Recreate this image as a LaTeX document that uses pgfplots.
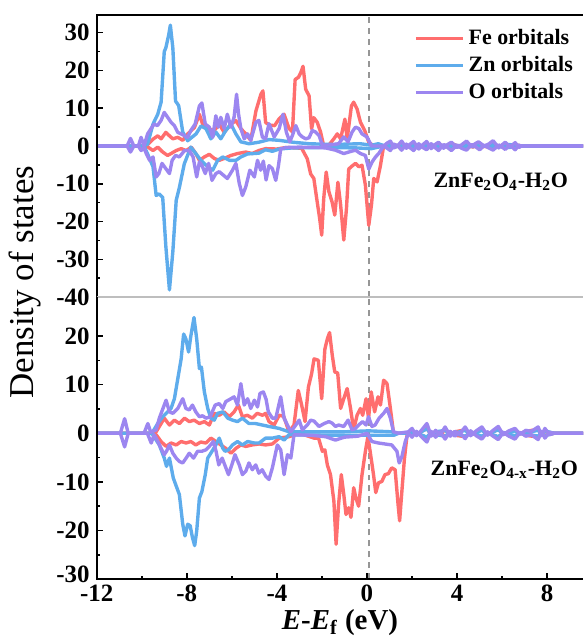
\documentclass[border=0pt]{standalone}
\usepackage{fontspec}
\setmainfont{Liberation Serif}
\usepackage{pgfplots}
\pgfplotsset{compat=1.18}
\definecolor{fecol}{RGB}{255,110,110}
\definecolor{zncol}{RGB}{94,172,236}
\definecolor{ocol}{RGB}{156,134,240}
\definecolor{sepgray}{RGB}{190,190,190}
\definecolor{dashgray}{RGB}{150,150,150}

\pgfplotsset{
  dosaxis/.style={
    scale only axis, width=244pt, height=141.5pt,
    xmin=-12, xmax=9.6,
    axis line style={draw=none},
    tick align=inside, ytick pos=left, xtick pos=bottom,
    major tick length=3pt, minor tick length=1.8pt,
    tick style={black, line width=0.8pt},
    minor tick num=1,
    tick label style={font=\bfseries\fontsize{12.5}{13}\selectfont},
    /pgf/number format/assume math mode=true,
    every axis plot/.append style={line width=1.7pt, line join=round, no markers},
  },
  fe/.style={fecol}, zn/.style={zncol}, ox/.style={ocol},
}

\begin{document}
\begin{tikzpicture}
% ---------------- upper panel: ZnFe2O4-H2O ----------------
\begin{axis}[dosaxis, name=top,
  ymin=-40, ymax=34.7, ytick={-40,-30,...,30},
  xtick=\empty,
  legend style={draw=none, fill=none, at={(1,1)}, anchor=north east,
    xshift=0pt, yshift=-3pt, font=\bfseries\fontsize{11}{12}\selectfont,
    row sep=0.5pt},
  legend cell align=left,
  legend image code/.code={\draw[#1] (0cm,0cm) -- (0.83cm,0cm);},
  after end axis/.code={
    \draw[black, line width=1pt] (rel axis cs:0,0) -- (rel axis cs:0,1) -- (rel axis cs:1,1);
    \draw[sepgray, line width=1pt] (rel axis cs:0,0) -- (rel axis cs:1,0);
  }]
\draw[dashgray, line width=1pt, dash pattern=on 3pt off 2.5pt] (axis cs:0.08,-40) -- (axis cs:0.08,34.7);

\addplot[fe] coordinates {(-12,0) (-9.8,0) (-9.5,1.8) (-9.29,2.7) (-9.14,1.9) (-8.93,3.6) (-8.77,2.7) (-8.62,1.9) (-8.4,2.3) (-8.18,1.5) (-7.96,3.2) (-7.66,4.9) (-7.44,8.4) (-7.3,5.8) (-7.07,4.6) (-6.78,4.1) (-6.56,5.8) (-6.34,3.6) (-6.04,5.8) (-5.82,6.7) (-5.6,4.6) (-5.38,3.2) (-5.16,1.5) (-4.93,9.3) (-4.71,13.7) (-4.62,14.6) (-4.5,6.2) (-4.3,5.5) (-4.1,5.4) (-3.9,7.2) (-3.68,8.4) (-3.46,4.6) (-3.31,3.7) (-3.19,17.6) (-3.04,18.2) (-2.94,19.4) (-2.84,21.1) (-2.72,15) (-2.57,13.3) (-2.46,4.5) (-2.36,7.5) (-2.21,6.3) (-2.06,3.7) (-1.92,0) (-1.7,0.2) (-1.47,1.9) (-1.32,3.2) (-1.17,1.9) (-0.98,7.1) (-0.88,1.9) (-0.69,10.6) (-0.59,11.6) (-0.44,9.8) (-0.29,6.3) (-0.1,4.1) (0.08,1.0) (0.3,0) (0.9,0) (1.04,0.5) (1.3,-0.2) (1.54,0.7) (1.8,-0.3) (2.07,0.6) (2.3,-0.3) (2.65,0.6) (2.9,-0.2) (3.18,0.5) (3.45,-0.3) (3.75,0.7) (4.1,-0.2) (4.42,0.5) (4.7,-0.3) (5.0,0.4) (5.3,-0.2) (5.6,0.8) (5.85,-0.2) (6.14,0.6) (6.4,-0.2) (6.58,0.4) (6.85,0) (9.6,0)};
\addlegendentry{Fe orbitals}
\addplot[fe, forget plot] coordinates {(-12,0) (-9.8,0) (-9.5,-1.2) (-9.29,-0.3) (-9.07,-1.6) (-8.85,-2.5) (-8.7,-2) (-8.47,-1.2) (-8.25,-0.7) (-8.03,-1.2) (-7.8,-0.3) (-7.6,-2) (-7.44,-3.8) (-7.22,-2.9) (-7.0,-2.2) (-6.78,-3.3) (-6.56,-3.8) (-6.34,-3.3) (-6.04,-2.5) (-5.75,-2) (-5.38,-1.6) (-5.1,-2) (-4.8,-1.2) (-4.5,-0.7) (-4.0,-0.8) (-3.6,-0.4) (-3.2,-0.5) (-2.9,-0.6) (-2.65,-3.4) (-2.5,-7.4) (-2.36,-8.6) (-2.21,-14.8) (-2.1,-19.2) (-2.01,-23.6) (-1.92,-13.9) (-1.81,-6.9) (-1.69,-12.1) (-1.55,-14.8) (-1.43,-18.3) (-1.29,-9.6) (-1.17,-15.6) (-1.03,-24.9) (-0.91,-16.5) (-0.81,-6.1) (-0.66,-5.3) (-0.51,-4.6) (-0.36,-5.5) (-0.22,-5.1) (-0.07,-10.4) (0.08,-21) (0.2,-15.6) (0.3,-8.6) (0.45,-9.5) (0.6,-5.1) (0.74,0) (1.04,-0.4) (1.3,0.2) (1.54,-0.6) (1.8,0.2) (2.07,-0.6) (2.3,0.2) (2.65,-0.5) (2.9,0.2) (3.18,-0.6) (3.45,0.2) (3.75,-0.6) (4.1,0.1) (4.42,-0.5) (4.7,0.2) (5.0,-0.5) (5.3,0.1) (5.6,-0.6) (5.85,0.1) (6.14,-0.5) (6.4,0.1) (6.58,-0.4) (6.85,0) (9.6,0)};

\addplot[zn] coordinates {(-12,0) (-9.9,0) (-9.74,0.5) (-9.5,5.8) (-9.29,8.4) (-9.14,11.6) (-9.0,25) (-8.93,26) (-8.8,29.5) (-8.73,32) (-8.62,26) (-8.5,11.9) (-8.36,10.7) (-8.18,3.7) (-7.96,1.4) (-7.59,3.2) (-7.37,5.3) (-7.15,4.6) (-6.93,1.9) (-6.71,3.7) (-6.49,1.9) (-6.27,4.1) (-6.04,5.8) (-5.82,3.2) (-5.6,1.1) (-5.24,0.6) (-4.8,1.0) (-4.35,1.7) (-3.9,1.5) (-3.3,1.0) (-2.57,0.6) (-1.5,0.4) (-0.3,0.6) (0.2,0.2) (0.5,0.6) (0.8,0) (1.04,0.4) (1.3,-0.2) (1.54,0.6) (1.8,-0.2) (2.07,0.5) (2.3,-0.2) (2.65,0.5) (2.9,-0.2) (3.18,0.4) (3.45,-0.2) (3.75,0.5) (4.1,-0.1) (4.42,0.4) (4.7,-0.2) (5.0,0.4) (5.3,-0.1) (5.6,0.5) (5.85,-0.1) (6.14,0.4) (6.58,0.3) (6.85,0) (9.6,0)};
\addlegendentry{Zn orbitals}
\addplot[zn, forget plot] coordinates {(-12,0) (-9.9,0) (-9.74,-2.1) (-9.5,-5.5) (-9.36,-13.1) (-9.22,-12.7) (-9.07,-13.6) (-8.93,-26.6) (-8.77,-38.1) (-8.62,-28) (-8.47,-14.4) (-8.33,-11) (-8.11,-4.7) (-7.82,-0.3) (-7.6,-2) (-7.37,-3.8) (-7.07,-5.5) (-6.85,-6.4) (-6.63,-3.8) (-6.4,-2.9) (-6.1,-3.8) (-5.82,-3.8) (-5.6,-2.9) (-5.3,-2.1) (-4.8,-1.9) (-4.5,-1.0) (-4.2,-1.4) (-3.9,-0.8) (-3.3,-0.5) (-2.0,-0.4) (-0.5,-0.5) (0.2,-0.7) (0.5,-0.3) (0.8,0) (1.04,-0.4) (1.3,0.2) (1.54,-0.5) (1.8,0.2) (2.07,-0.5) (2.3,0.2) (2.65,-0.4) (2.9,0.2) (3.18,-0.5) (3.45,0.2) (3.75,-0.5) (4.1,0.1) (4.42,-0.4) (4.7,0.1) (5.0,-0.4) (5.3,0.1) (5.6,-0.5) (5.85,0.1) (6.14,-0.4) (6.58,-0.3) (6.85,0) (9.6,0)};

\addplot[ox] coordinates {(-12,0) (-10.65,0) (-10.5,2.0) (-10.35,0) (-10.15,0) (-10.03,2.3) (-9.9,0) (-9.74,3.2) (-9.6,4.5) (-9.45,5.8) (-9.3,5.4) (-9.14,6.8) (-9.0,8.9) (-8.85,7.6) (-8.7,6.3) (-8.55,5.4) (-8.4,3.6) (-8.25,3.2) (-8.1,2.7) (-7.96,2.3) (-7.82,4.1) (-7.63,5.8) (-7.44,10.6) (-7.33,11.4) (-7.18,5.8) (-7.0,5.0) (-6.85,2.3) (-6.71,8.0) (-6.6,5.0) (-6.49,7.6) (-6.34,4.6) (-6.2,8.4) (-6.04,5.0) (-5.9,7.6) (-5.79,13.7) (-5.7,8.4) (-5.6,4.6) (-5.45,1.9) (-5.3,3.2) (-5.16,1.5) (-4.93,6.3) (-4.8,6.8) (-4.64,2.3) (-4.5,2.0) (-4.35,5.9) (-4.12,2.4) (-3.9,4.6) (-3.73,8.4) (-3.58,3.7) (-3.43,1.1) (-3.31,2.8) (-3.16,5.4) (-3.01,3.2) (-2.87,2.4) (-2.72,1.9) (-2.57,2.2) (-2.43,4.1) (-2.28,3.7) (-2.13,2.8) (-1.98,0.2) (-1.6,0.3) (-1.26,0.6) (-1.03,2.4) (-0.84,1.1) (-0.66,3.7) (-0.51,5.0) (-0.36,4.6) (-0.22,3.2) (0.0,2.4) (0.2,0) (0.74,0) (0.9,0.8) (1.04,1.3) (1.2,-0.5) (1.4,0.3) (1.54,1.3) (1.75,-0.6) (1.9,0.4) (2.07,1.2) (2.3,-0.8) (2.45,0.2) (2.65,1.2) (2.85,-0.7) (3.0,0.3) (3.18,1.0) (3.4,-0.6) (3.55,0.3) (3.75,1.0) (4.0,-0.4) (4.2,0.3) (4.42,1.3) (4.65,-0.2) (4.8,0.6) (4.95,1.1) (5.2,0.0) (5.4,0.5) (5.6,1.4) (5.85,-0.5) (6.0,0.3) (6.14,1.0) (6.35,-0.3) (6.58,0.9) (6.75,-0.4) (6.85,0) (9.6,0)};
\addlegendentry{O orbitals}
\addplot[ox, forget plot] coordinates {(-12,0) (-10.65,0) (-10.5,-1.6) (-10.35,0) (-10.15,0) (-10.03,-1.2) (-9.9,-0.5) (-9.8,-2) (-9.65,-3.8) (-9.5,-2.9) (-9.36,-8.2) (-9.24,-7.3) (-9.1,-4.6) (-8.93,-6) (-8.77,-7.3) (-8.65,-3.8) (-8.5,-2.5) (-8.33,-2.9) (-8.1,-1.2) (-7.89,-1.2) (-7.72,-2.9) (-7.56,-8.2) (-7.44,-4.2) (-7.33,-5.1) (-7.18,-7.3) (-7.03,-4.6) (-6.88,-9.1) (-6.71,-7.3) (-6.56,-6.8) (-6.38,-7.7) (-6.2,-8.6) (-5.97,-6.4) (-5.82,-4.6) (-5.67,-9.9) (-5.53,-13.1) (-5.38,-10.8) (-5.2,-6.4) (-5.0,-8.2) (-4.86,-3.8) (-4.72,-6.4) (-4.6,-4) (-4.48,-9) (-4.35,-5.2) (-4.2,-6) (-4.05,-9.1) (-3.93,-5.2) (-3.83,-0.8) (-3.6,-0.4) (-3.0,-0.3) (-2.2,-0.4) (-1.84,-0.5) (-1.4,-1.1) (-1.03,-2) (-0.81,-1.6) (-0.51,-1.1) (-0.29,-2) (-0.07,-2.5) (0.08,-6.1) (0.23,-4.2) (0.38,-2.9) (0.52,-2) (0.74,0) (0.9,-0.6) (1.04,-1.2) (1.2,0.5) (1.4,-0.2) (1.54,-1.1) (1.75,0.5) (1.9,-0.4) (2.07,-1.2) (2.3,0.6) (2.45,-0.3) (2.65,-1.0) (2.85,0.6) (3.0,-0.3) (3.18,-1.2) (3.4,0.4) (3.6,-0.5) (3.75,-1.2) (4.0,0.3) (4.2,-0.6) (4.42,-1.1) (4.65,0.4) (4.85,-0.3) (5.0,-1.0) (5.2,0.2) (5.4,-0.5) (5.6,-1.1) (5.85,0.3) (6.0,-0.3) (6.14,-0.9) (6.35,0.2) (6.58,-1.0) (6.75,0.2) (6.85,0) (9.6,0)};

\node[font=\bfseries\fontsize{11}{12}\selectfont] at (axis cs:5.94,-9.5) {ZnFe\textsubscript{2}O\textsubscript{4}-H\textsubscript{2}O};
\end{axis}

% ---------------- lower panel: ZnFe2O4-x-H2O ----------------
\begin{axis}[dosaxis, name=bot, at={(top.south west)}, anchor=north west,
  ymin=-30, ymax=28, ytick={-30,-20,...,20},
  yticklabels={\raisebox{5pt}{-30},-20,-10,0,10,20},
  xtick={-12,-8,...,8},
  xticklabel style={yshift=0.5pt},
  xlabel={\textit{E}-\textit{E}\textsubscript{f} (eV)},
  xlabel style={font=\bfseries\fontsize{14.5}{16}\selectfont, yshift=3pt},
  after end axis/.code={
    \draw[black, line width=1pt] (rel axis cs:0,1) -- (rel axis cs:0,0) -- (rel axis cs:1,0);
  }]
\draw[dashgray, line width=1pt, dash pattern=on 3pt off 2.5pt] (axis cs:0.08,-30) -- (axis cs:0.08,28);

\addplot[fe] coordinates {(-12,0) (-9.5,0) (-9.36,0.3) (-9.14,2.0) (-9.0,3.1) (-8.77,1.7) (-8.55,2.7) (-8.33,2.0) (-8.1,3.1) (-7.89,2.4) (-7.67,2.7) (-7.44,2.0) (-7.22,2.4) (-7.0,1.7) (-6.78,4.1) (-6.56,3.7) (-6.34,4.4) (-6.12,3.4) (-5.9,4.4) (-5.71,5.8) (-5.53,3.4) (-5.31,3.7) (-5.09,3.1) (-4.87,4.1) (-4.64,3.7) (-4.5,4.1) (-4.35,2.4) (-4.12,1.7) (-3.9,3.7) (-3.7,3.5) (-3.46,0.3) (-3.24,1.7) (-3.05,8.8) (-2.9,5.8) (-2.75,2.4) (-2.6,9.5) (-2.46,12.2) (-2.35,15.3) (-2.16,15.0) (-2.01,7.1) (-1.87,17.3) (-1.76,19.4) (-1.66,20.7) (-1.54,16.0) (-1.43,12.6) (-1.3,12.4) (-1.17,5.1) (-1.03,7.1) (-0.88,9.2) (-0.73,5.1) (-0.59,0.7) (-0.44,3.7) (-0.29,5.1) (-0.19,3.7) (-0.04,7.1) (0.07,3.1) (0.19,8.5) (0.34,4.4) (0.49,7.5) (0.6,5.8) (0.74,10.9) (0.89,10.2) (1.04,5.1) (1.18,0) (1.84,0) (2.0,0.5) (2.2,-0.3) (2.4,0.3) (2.66,1.0) (2.85,-0.3) (3.05,0.4) (3.25,-0.2) (3.47,0.7) (3.7,-0.3) (3.9,0.3) (4.36,0.7) (4.6,-0.3) (4.85,0.3) (5.1,0.7) (5.35,-0.2) (5.6,0.3) (5.83,0.8) (6.05,-0.2) (6.3,0.3) (6.57,0.6) (6.8,-0.1) (7.05,0.4) (7.6,0.8) (7.75,-0.3) (7.9,0.6) (8.1,-0.2) (8.3,0) (9.6,0)};
\addplot[fe, forget plot] coordinates {(-12,0) (-9.5,0) (-9.36,-0.3) (-9.14,-1.7) (-8.92,-2.7) (-8.7,-2.0) (-8.47,-2.4) (-8.25,-1.7) (-8.03,-2.0) (-7.82,-1.7) (-7.6,-2.4) (-7.38,-1.8) (-7.15,-2.0) (-6.93,-1.0) (-6.7,-1.7) (-6.49,-2.4) (-6.27,-3.1) (-6.04,-4.1) (-5.82,-3.1) (-5.6,-2.4) (-5.38,-2.7) (-5.1,-2.4) (-4.79,-2.2) (-4.5,-2.4) (-4.2,-2.2) (-3.9,-1.0) (-3.46,-0.7) (-3.0,0) (-2.35,-1.0) (-2.15,-1.0) (-1.98,-3.7) (-1.87,-3.4) (-1.76,-6.5) (-1.62,-8.5) (-1.47,-13.9) (-1.37,-22.8) (-1.26,-14.6) (-1.14,-8.5) (-1.03,-12.6) (-0.93,-16.7) (-0.81,-15.3) (-0.71,-17.3) (-0.59,-11.2) (-0.49,-13.3) (-0.37,-15.0) (-0.22,-8.5) (-0.07,-3.7) (0.04,-0.7) (0.14,-3.7) (0.29,-8.5) (0.39,-12.2) (0.51,-10.2) (0.66,-9.9) (0.8,-8.5) (0.95,-8.3) (1.1,-7.1) (1.25,-7.5) (1.38,-14.6) (1.45,-18.0) (1.55,-11.9) (1.66,-5.4) (1.78,-0.3) (1.9,0) (2.0,-0.4) (2.2,0.2) (2.4,-0.4) (2.66,-0.9) (2.85,0.2) (3.05,-0.5) (3.25,0.2) (3.47,-0.7) (3.7,0.2) (3.9,-0.4) (4.36,-0.7) (4.6,0.2) (4.85,-0.3) (5.1,-0.8) (5.35,0.2) (5.6,-0.4) (5.83,-0.8) (6.05,0.1) (6.3,-0.4) (6.57,-0.7) (6.8,0.1) (7.05,-0.4) (7.6,-0.8) (7.75,0.2) (7.9,-0.6) (8.1,0.1) (8.3,0) (9.6,0)};

\addplot[zn] coordinates {(-12,0) (-9.6,0) (-9.51,0.3) (-9.29,2.0) (-9.07,3.4) (-8.85,4.4) (-8.7,5.1) (-8.55,7.1) (-8.25,15.3) (-8.14,20.4) (-8.04,19.4) (-7.92,16.7) (-7.82,20) (-7.68,23.8) (-7.56,19.4) (-7.44,13.3) (-7.35,13.6) (-7.22,8.5) (-7.07,5.1) (-6.93,3.1) (-6.78,2.7) (-6.63,4.1) (-6.4,4.4) (-6.18,3.1) (-5.97,2.7) (-5.75,2.4) (-5.53,3.1) (-5.24,2.0) (-4.95,2.0) (-4.65,1.7) (-4.35,1.4) (-3.9,1.0) (-3.46,0.3) (-2.5,0.3) (-1.0,0.3) (0.07,0.5) (1.1,0.3) (1.3,0) (1.84,0) (2.0,0.4) (2.2,-0.2) (2.4,0.3) (2.66,0.9) (2.85,-0.2) (3.05,0.3) (3.47,0.6) (3.7,-0.2) (4.36,0.6) (4.6,-0.2) (5.1,0.6) (5.35,-0.1) (5.83,0.7) (6.05,-0.1) (6.57,0.5) (6.8,-0.1) (7.6,0.6) (7.75,-0.2) (7.9,0.5) (8.3,0) (9.6,0)};
\addplot[zn, forget plot] coordinates {(-12,0) (-9.6,0) (-9.51,-0.3) (-9.22,-2.4) (-9.0,-5.1) (-8.9,-6.8) (-8.77,-5.1) (-8.6,-9.2) (-8.33,-12.6) (-8.18,-18.7) (-8.08,-21.1) (-7.96,-18.7) (-7.85,-19) (-7.75,-21.4) (-7.65,-23.1) (-7.56,-20.1) (-7.44,-13.3) (-7.33,-12) (-7.18,-8.5) (-7.07,-5.1) (-6.88,-3.7) (-6.71,-2.4) (-6.56,-1.0) (-6.4,-3.1) (-6.3,-3.7) (-6.15,-3.4) (-5.97,-2.4) (-5.75,-1.7) (-5.53,-2.4) (-5.3,-1.7) (-5.0,-2.0) (-4.79,-2.0) (-4.5,-1.0) (-4.2,-1.0) (-3.9,-0.7) (-3.68,-1.4) (-3.46,-0.3) (-2.0,-0.4) (0.0,-0.4) (1.2,-0.4) (1.4,0) (1.84,0) (2.0,-0.4) (2.2,0.2) (2.4,-0.3) (2.66,-0.8) (2.85,0.2) (3.05,-0.3) (3.47,-0.6) (3.7,0.2) (4.36,-0.6) (4.6,0.2) (5.1,-0.6) (5.35,0.1) (5.83,-0.7) (6.05,0.1) (6.57,-0.5) (6.8,0.1) (7.6,-0.6) (7.75,0.2) (7.9,-0.5) (8.3,0) (9.6,0)};

\addplot[ox] coordinates {(-12,0) (-10.95,0) (-10.76,3.0) (-10.6,0) (-9.9,0) (-9.73,2.0) (-9.6,0.2) (-9.36,0.7) (-9.22,3.1) (-8.92,6.8) (-8.77,4.4) (-8.62,4.1) (-8.4,5.1) (-8.18,7.1) (-8.04,5.1) (-7.89,4.8) (-7.75,5.8) (-7.6,4.4) (-7.44,3.4) (-7.3,3.6) (-7.15,3.1) (-6.96,3.4) (-6.74,5.8) (-6.56,6.1) (-6.4,5.1) (-6.27,6.5) (-6.04,7.1) (-5.9,7.5) (-5.75,5.8) (-5.6,10.2) (-5.45,5.8) (-5.3,7.1) (-5.16,5.1) (-5.0,6.8) (-4.86,5.4) (-4.75,8.2) (-4.6,8.5) (-4.48,7.0) (-4.38,4.4) (-4.2,3.1) (-4.05,3.1) (-3.9,6.1) (-3.83,7.5) (-3.68,3.1) (-3.53,1.7) (-3.38,0.3) (-3.16,1.7) (-3.01,2.7) (-2.87,0.7) (-2.65,1.7) (-2.5,2.7) (-2.35,2.5) (-2.13,1.4) (-1.9,2.0) (-1.69,2.4) (-1.55,2.1) (-1.4,1.4) (-1.26,1.7) (-1.03,1.4) (-0.84,2.7) (-0.66,0.7) (-0.51,1.0) (-0.37,1.7) (-0.19,2.4) (-0.04,1.7) (0.07,3.4) (0.22,1.4) (0.36,1.7) (0.54,3.1) (0.74,4.1) (0.89,5.1) (1.04,3.1) (1.18,0.3) (1.4,0) (1.84,0.3) (2.0,1.0) (2.2,-0.5) (2.4,0.5) (2.66,2.0) (2.85,-0.6) (3.05,0.6) (3.25,-0.3) (3.47,1.3) (3.7,-0.6) (3.9,0.4) (4.1,-0.2) (4.36,1.3) (4.6,-0.5) (4.85,0.5) (5.1,1.3) (5.35,-0.4) (5.6,0.6) (5.83,1.4) (6.05,-0.3) (6.3,0.5) (6.57,1.0) (6.8,-0.2) (7.05,0.6) (7.3,0.4) (7.6,1.3) (7.75,-0.5) (7.9,1.0) (8.1,-0.3) (8.3,0) (9.6,0)};
\addplot[ox, forget plot] coordinates {(-12,0) (-10.95,0) (-10.76,-2.8) (-10.6,0) (-9.75,0) (-9.58,-2.0) (-9.45,-0.3) (-9.36,-1.0) (-9.14,-3.1) (-9.0,-4.4) (-8.9,-3.7) (-8.77,-2.4) (-8.62,-4.1) (-8.47,-5.1) (-8.33,-5.8) (-8.18,-6.1) (-8.03,-5.1) (-7.89,-4.1) (-7.7,-5.1) (-7.52,-3.7) (-7.33,-3.7) (-7.15,-3.4) (-7.0,-2.7) (-6.82,-1.7) (-6.7,-3.7) (-6.58,-6.5) (-6.43,-5.1) (-6.15,-8.5) (-6.0,-6.5) (-5.86,-4.4) (-5.67,-6.5) (-5.53,-8.5) (-5.38,-7.8) (-5.24,-6.1) (-5.09,-7.5) (-4.94,-6.5) (-4.8,-8.2) (-4.65,-7.5) (-4.5,-8.8) (-4.35,-9.5) (-4.2,-7.1) (-3.98,-2.4) (-3.83,-3.4) (-3.68,-8.5) (-3.53,-4.4) (-3.38,-5.1) (-3.24,-0.3) (-2.5,-0.4) (-1.84,-0.7) (-1.4,-1.4) (-1.0,-0.8) (-0.4,-0.6) (0.0,0) (0.22,-1.7) (0.51,-2.0) (0.8,-2.2) (1.1,-2.4) (1.33,-3.7) (1.43,-6.1) (1.55,-4.8) (1.7,-1.7) (1.84,0) (2.0,-0.8) (2.2,0.4) (2.4,-0.6) (2.66,-1.8) (2.85,0.4) (3.05,-0.8) (3.25,0.3) (3.47,-1.2) (3.7,0.4) (3.9,-0.6) (4.1,0.2) (4.36,-1.1) (4.6,0.5) (4.85,-0.5) (5.1,-1.2) (5.35,0.3) (5.6,-0.6) (5.83,-1.3) (6.05,0.2) (6.3,-0.6) (6.57,-1.2) (6.8,0.2) (7.05,-0.6) (7.3,-0.3) (7.6,-1.3) (7.75,0.4) (7.9,-1.0) (8.1,0.2) (8.3,0) (9.6,0)};

\node[font=\bfseries\fontsize{11}{12}\selectfont] at (axis cs:6.1,-7.5) {ZnFe\textsubscript{2}O\textsubscript{4-x}-H\textsubscript{2}O};
\end{axis}

\node[rotate=90, font=\fontsize{17.5}{20}\selectfont] at ([shift={(-36pt,7.5pt)}]top.south west) {Density of states};

\pgfresetboundingbox
\path ([shift={(-48.5pt,7.5pt)}]top.north west) rectangle ([shift={(0pt,-31pt)}]bot.south east);
\end{tikzpicture}
\end{document}
